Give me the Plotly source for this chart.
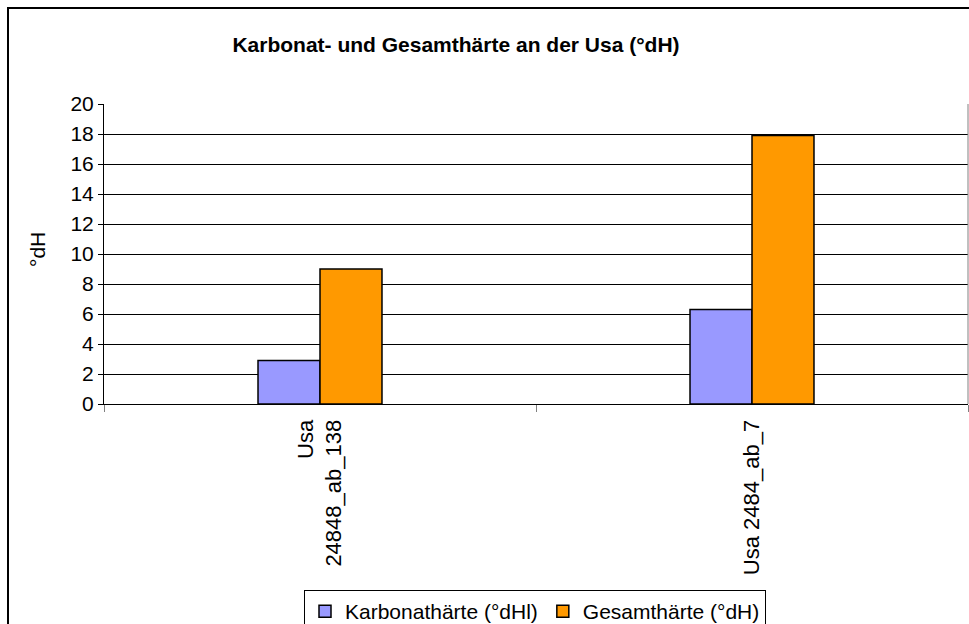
import plotly.graph_objects as go

categories = ["Usa<br>24848_ab_138", "Usa 2484_ab_7"]
karbonat = [2.9, 6.3]
gesamt = [9.0, 17.9]
series_names = ["Karbonathärte (°dHl)", "Gesamthärte (°dH)"]
y_ticks = list(range(0, 21, 2))

FONT = "Liberation Sans, Arial, sans-serif"
L, T, PW, PH = 104, 104, 864, 300

fig = go.Figure()
fig.add_trace(go.Bar(x=categories, y=karbonat, name=series_names[0],
                     marker=dict(color="#9999FF", line=dict(color="black", width=1.5))))
fig.add_trace(go.Bar(x=categories, y=gesamt, name=series_names[1],
                     marker=dict(color="#FF9900", line=dict(color="black", width=1.5))))

fig.update_layout(
    width=969, height=624,
    margin=dict(l=L, r=969 - L - PW, t=T, b=624 - T - PH, autoexpand=False),
    paper_bgcolor="white", plot_bgcolor="white",
    font=dict(family=FONT, size=21, color="black"),
    barmode="group", bargap=0.713, bargroupgap=0,
    title=dict(text="<b>Karbonat- und Gesamthärte an der Usa (°dH)</b>",
               x=456 / 969, xanchor="center", xref="container",
               y=1 - 45 / 624, yanchor="middle", yref="container",
               font=dict(size=21, family=FONT, color="black")),
    showlegend=True,
    legend=dict(orientation="h", x=(535 - L) / PW, xanchor="center",
                y=(T + PH - 590) / PH, yanchor="top",
                bordercolor="black", borderwidth=1, font=dict(size=21, color="black"),
                itemwidth=30, tracegroupgap=0),
    xaxis=dict(type="category", tickangle=-90, tickson="boundaries",
               ticks="outside", ticklen=7, tickcolor="#808080",
               ticklabelstandoff=6,
               showline=True, linecolor="black", linewidth=1, automargin=False,
               showgrid=False, tickfont=dict(size=22)),
    yaxis=dict(range=[0, 20], tickvals=y_ticks, ticks="outside", ticklen=5,
               tickcolor="black", showline=True, linecolor="black", linewidth=1,
               showgrid=True, gridcolor="black", gridwidth=1, zeroline=False,
               automargin=False, tickfont=dict(size=21)),
    annotations=[dict(text="°dH", xref="paper", yref="paper",
                      x=(37 - L) / PW, y=(T + PH - 250) / PH,
                      xanchor="center", yanchor="middle", textangle=-90,
                      showarrow=False, font=dict(size=21, color="black"))],
    shapes=[dict(type="rect", xref="paper", yref="paper",
                 x0=(8 - L) / PW, x1=1.2, y0=-1.2, y1=(T + PH - 8) / PH,
                 line=dict(color="black", width=2), fillcolor="rgba(0,0,0,0)",
                 layer="below"),
            dict(type="line", xref="paper", yref="paper", x0=1, x1=1, y0=0, y1=1,
                 line=dict(color="#808080", width=1))],
)

fig.write_html("out.html", config={"displayModeBar": False},
               post_script="document.body.style.margin='0px';document.body.style.overflow='hidden';")
